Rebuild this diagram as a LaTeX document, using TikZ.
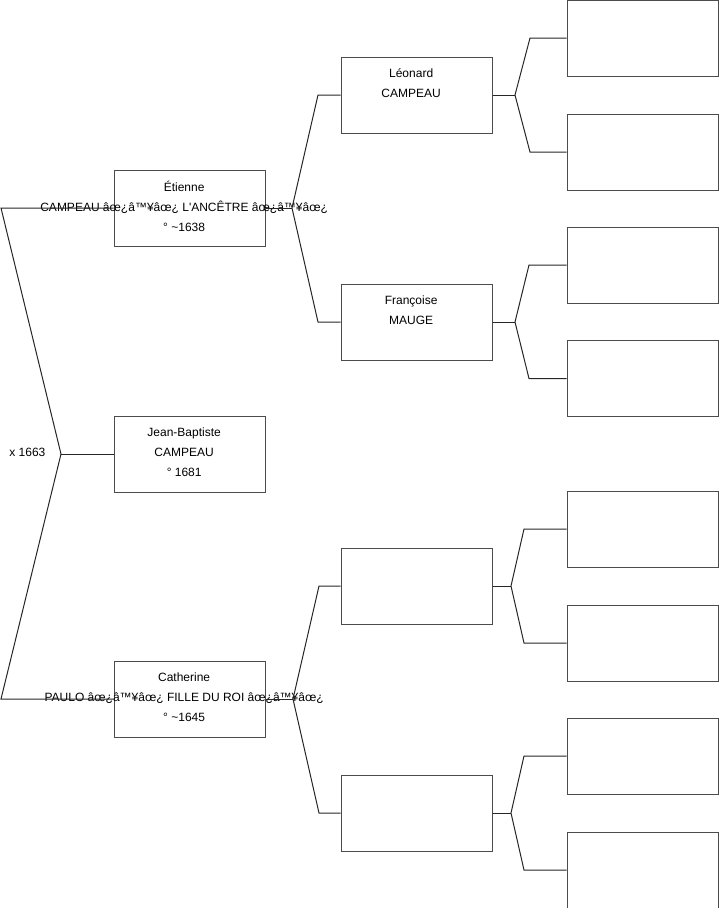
\documentclass[tikz,border=0pt]{standalone}
\usepackage{fontspec}
\setmainfont{Liberation Sans}
\begin{document}
\begin{tikzpicture}[x=0.75pt,y=-0.75pt,
   person/.style={draw=black!70,line width=0.75pt,minimum width=113.25pt,minimum height=57pt,inner sep=0pt},
   txt/.style={align=center,inner sep=0pt,xshift=-4pt,font=\fontsize{9}{15}\selectfont},
   link/.style={draw=black!85,line width=0.75pt}]
   \useasboundingbox (0,0) rectangle (719,908);
   %generation 1
   \node[person] (etienne) at (189.5,208) {};
   \node[person] (jb) at (189.5,454) {};
   \node[person] (catherine) at (189.5,699) {};
   %generation 2
   \node[person] (leonard) at (416.5,95) {};
   \node[person] (francoise) at (416.5,322) {};
   \node[person] (cpere) at (416.5,586) {};
   \node[person] (cmere) at (416.5,813) {};
   %generation 3
   \node[person] (lpere) at (642.5,38) {};
   \node[person] (lmere) at (642.5,152) {};
   \node[person] (fpere) at (642.5,265) {};
   \node[person] (fmere) at (642.5,378.5) {};
   \node[person] (cpp) at (642.5,529) {};
   \node[person] (cpm) at (642.5,643) {};
   \node[person] (cmp) at (642.5,756) {};
   \node[person] (cmm) at (642.5,870) {};
   %texts
   \node[txt,yshift=1.5pt] (etienne-t) at (etienne) {Étienne\\CAMPEAU âœ¿â™¥âœ¿ L\textquotesingle ANCÊTRE âœ¿â™¥âœ¿\\° \textasciitilde 1638};
   \node[txt,yshift=1.5pt] (jb-t) at (jb) {Jean-Baptiste\\CAMPEAU\\° 1681};
   \node[txt,yshift=1.5pt] (catherine-t) at (catherine) {Catherine\\PAULO âœ¿â™¥âœ¿ FILLE DU ROI âœ¿â™¥âœ¿\\° \textasciitilde 1645};
   \node[txt,yshift=9pt] (leonard-t) at (leonard) {Léonard\\CAMPEAU};
   \node[txt,yshift=9pt] (francoise-t) at (francoise) {Françoise\\MAUGE};
   \node[txt,anchor=east] (mariage) at (51,452) {x 1663};
   %fork couple
   \coordinate (f0) at (61,454);
   \coordinate (f0a) at (1,208);
   \coordinate (f0b) at (1,699);
   \draw[link] (etienne.west) -- (f0a) -- (f0) -- (f0b) -- (catherine.west);
   \draw[link] (jb.west) -- (f0);
   %fork etienne
   \coordinate (f1) at (292,208);
   \coordinate (f1a) at (318,95);
   \coordinate (f1b) at (318,322);
   \draw[link] (leonard.west) -- (f1a) -- (f1) -- (f1b) -- (francoise.west);
   \draw[link] (etienne.east) -- (f1);
   %fork catherine
   \coordinate (f2) at (293,699);
   \coordinate (f2a) at (319,586);
   \coordinate (f2b) at (319,813);
   \draw[link] (cpere.west) -- (f2a) -- (f2) -- (f2b) -- (cmere.west);
   \draw[link] (catherine.east) -- (f2);
   %fork leonard
   \coordinate (f3) at (515,95);
   \coordinate (f3a) at (530,38);
   \coordinate (f3b) at (530,152);
   \draw[link] (lpere.west) -- (f3a) -- (f3) -- (f3b) -- (lmere.west);
   \draw[link] (leonard.east) -- (f3);
   %fork francoise
   \coordinate (f4) at (515,322);
   \coordinate (f4a) at (529,265);
   \coordinate (f4b) at (529,378.5);
   \draw[link] (fpere.west) -- (f4a) -- (f4) -- (f4b) -- (fmere.west);
   \draw[link] (francoise.east) -- (f4);
   %fork pere catherine
   \coordinate (f5) at (511,586);
   \coordinate (f5a) at (524,529);
   \coordinate (f5b) at (524,643);
   \draw[link] (cpp.west) -- (f5a) -- (f5) -- (f5b) -- (cpm.west);
   \draw[link] (cpere.east) -- (f5);
   %fork mere catherine
   \coordinate (f6) at (511,813);
   \coordinate (f6a) at (524,756);
   \coordinate (f6b) at (524,870);
   \draw[link] (cmp.west) -- (f6a) -- (f6) -- (f6b) -- (cmm.west);
   \draw[link] (cmere.east) -- (f6);
\end{tikzpicture}
\end{document}
